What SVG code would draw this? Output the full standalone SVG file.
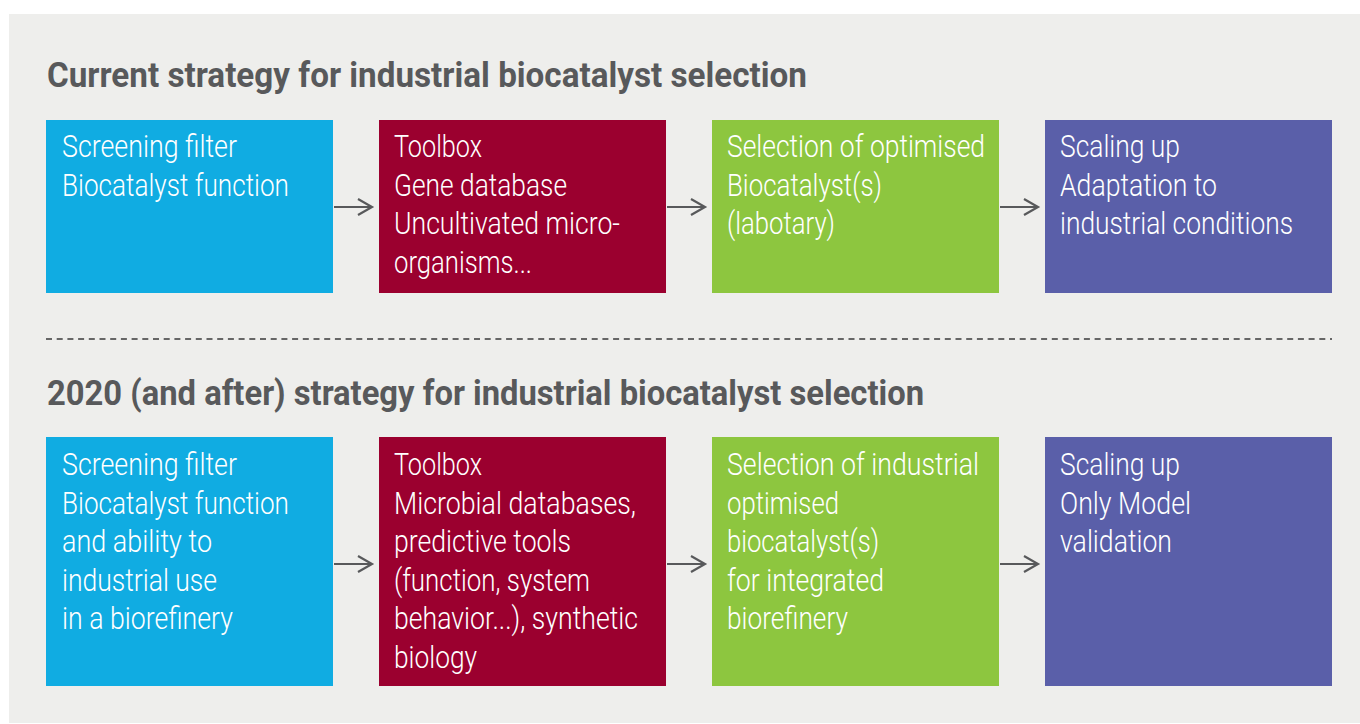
<svg xmlns="http://www.w3.org/2000/svg" width="1360" height="724" viewBox="0 0 1360 724">
<defs>
<style>
.title{font-family:Roboto,"Liberation Sans",sans-serif;font-weight:700;font-size:35px;fill:#58595b}
.t{font-family:Roboto,"Liberation Sans",sans-serif;font-weight:300;font-size:31px;fill:#ffffff}
.arr{stroke:#58595b;stroke-width:2.2;fill:none}
</style>
<marker id="ah" markerWidth="20" markerHeight="20" refX="15" refY="9" orient="auto" markerUnits="userSpaceOnUse">
<path d="M1,1 L15,9 L1,17" fill="none" stroke="#58595b" stroke-width="2.2"/>
</marker>
</defs>
<rect x="0" y="0" width="1360" height="724" fill="#ffffff"/>
<rect x="9" y="14" width="1351" height="709" fill="#eeeeec"/>

<text class="title" x="47" y="87" textLength="760" lengthAdjust="spacingAndGlyphs">Current strategy for industrial biocatalyst selection</text>
<text class="title" x="47" y="405" textLength="877" lengthAdjust="spacingAndGlyphs">2020 (and after) strategy for industrial biocatalyst selection</text>

<line x1="46" y1="339" x2="1332" y2="339" stroke="#666666" stroke-width="2" stroke-dasharray="6,4.7"/>

<g id="connectors">
<line class="arr" x1="334" y1="207" x2="372" y2="207" marker-end="url(#ah)"/>
<line class="arr" x1="667" y1="207" x2="705" y2="207" marker-end="url(#ah)"/>
<line class="arr" x1="1000" y1="207" x2="1038" y2="207" marker-end="url(#ah)"/>
<line class="arr" x1="334" y1="564" x2="372" y2="564" marker-end="url(#ah)"/>
<line class="arr" x1="667" y1="564" x2="705" y2="564" marker-end="url(#ah)"/>
<line class="arr" x1="1000" y1="564" x2="1038" y2="564" marker-end="url(#ah)"/>
</g>

<g id="r1b1">
<rect x="46" y="120" width="287" height="173" fill="#10ace2"/>
<text class="t" x="62" y="157" textLength="175" lengthAdjust="spacingAndGlyphs">Screening filter</text>
<text class="t" x="62" y="195.5" textLength="227" lengthAdjust="spacingAndGlyphs">Biocatalyst function</text>
</g>
<g id="r1b2">
<rect x="379" y="120" width="287" height="173" fill="#9b002f"/>
<text class="t" x="394" y="157" textLength="88" lengthAdjust="spacingAndGlyphs">Toolbox</text>
<text class="t" x="394" y="195.5" textLength="173" lengthAdjust="spacingAndGlyphs">Gene database</text>
<text class="t" x="394" y="234" textLength="226" lengthAdjust="spacingAndGlyphs">Uncultivated micro-</text>
<text class="t" x="394" y="272.5" textLength="138" lengthAdjust="spacingAndGlyphs">organisms...</text>
</g>
<g id="r1b3">
<rect x="712" y="120" width="287" height="173" fill="#8dc63f"/>
<text class="t" x="727" y="157" textLength="258" lengthAdjust="spacingAndGlyphs">Selection of optimised</text>
<text class="t" x="727" y="195.5" textLength="155" lengthAdjust="spacingAndGlyphs">Biocatalyst(s)</text>
<text class="t" x="727" y="234" textLength="108" lengthAdjust="spacingAndGlyphs">(labotary)</text>
</g>
<g id="r1b4">
<rect x="1045" y="120" width="287" height="173" fill="#5a5fa9"/>
<text class="t" x="1060" y="157" textLength="120" lengthAdjust="spacingAndGlyphs">Scaling up</text>
<text class="t" x="1060" y="195.5" textLength="157" lengthAdjust="spacingAndGlyphs">Adaptation to</text>
<text class="t" x="1060" y="234" textLength="233" lengthAdjust="spacingAndGlyphs">industrial conditions</text>
</g>

<g id="r2b1">
<rect x="46" y="437" width="287" height="249" fill="#10ace2"/>
<text class="t" x="62" y="475" textLength="175" lengthAdjust="spacingAndGlyphs">Screening filter</text>
<text class="t" x="62" y="513.5" textLength="227" lengthAdjust="spacingAndGlyphs">Biocatalyst function</text>
<text class="t" x="62" y="552" textLength="150" lengthAdjust="spacingAndGlyphs">and ability to</text>
<text class="t" x="62" y="590.5" textLength="155" lengthAdjust="spacingAndGlyphs">industrial use</text>
<text class="t" x="62" y="629" textLength="171" lengthAdjust="spacingAndGlyphs">in a biorefinery</text>
</g>
<g id="r2b2">
<rect x="379" y="437" width="287" height="249" fill="#9b002f"/>
<text class="t" x="394" y="475" textLength="88" lengthAdjust="spacingAndGlyphs">Toolbox</text>
<text class="t" x="394" y="513.5" textLength="242" lengthAdjust="spacingAndGlyphs">Microbial databases,</text>
<text class="t" x="394" y="552" textLength="177" lengthAdjust="spacingAndGlyphs">predictive tools</text>
<text class="t" x="394" y="590.5" textLength="196" lengthAdjust="spacingAndGlyphs">(function, system</text>
<text class="t" x="394" y="629" textLength="244" lengthAdjust="spacingAndGlyphs">behavior...), synthetic</text>
<text class="t" x="394" y="667.5" textLength="83" lengthAdjust="spacingAndGlyphs">biology</text>
</g>
<g id="r2b3">
<rect x="712" y="437" width="287" height="249" fill="#8dc63f"/>
<text class="t" x="727" y="475" textLength="252" lengthAdjust="spacingAndGlyphs">Selection of industrial</text>
<text class="t" x="727" y="513.5" textLength="112" lengthAdjust="spacingAndGlyphs">optimised</text>
<text class="t" x="727" y="552" textLength="152" lengthAdjust="spacingAndGlyphs">biocatalyst(s)</text>
<text class="t" x="727" y="590.5" textLength="157" lengthAdjust="spacingAndGlyphs">for integrated</text>
<text class="t" x="727" y="629" textLength="121" lengthAdjust="spacingAndGlyphs">biorefinery</text>
</g>
<g id="r2b4">
<rect x="1045" y="437" width="287" height="249" fill="#5a5fa9"/>
<text class="t" x="1060" y="475" textLength="120" lengthAdjust="spacingAndGlyphs">Scaling up</text>
<text class="t" x="1060" y="513.5" textLength="131" lengthAdjust="spacingAndGlyphs">Only Model</text>
<text class="t" x="1060" y="552" textLength="112" lengthAdjust="spacingAndGlyphs">validation</text>
</g>
</svg>
